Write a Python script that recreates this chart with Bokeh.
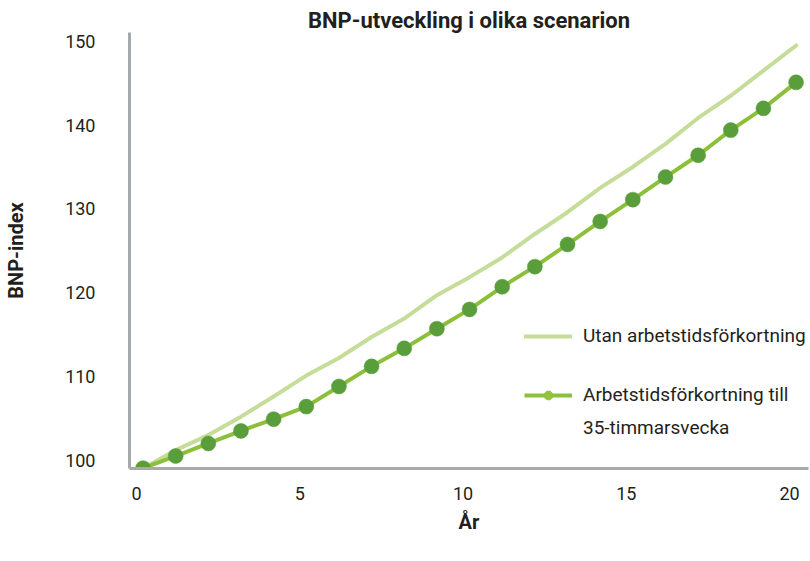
from bokeh.plotting import figure
from bokeh.models import Range1d, Legend, LegendItem, ColumnDataSource, FixedTicker
from bokeh.transform import dodge
from bokeh.embed import file_html
from bokeh.resources import INLINE

# ---- data ----
years = list(range(21))
utan = [99.05, 101.2, 103.0, 105.2, 107.6, 110.1, 112.2, 114.7, 116.9, 119.7, 121.85,
        124.2, 127.0, 129.6, 132.5, 135.0, 137.75, 140.85, 143.5, 146.5, 149.5]
med = [99.05, 100.5, 102.0, 103.5, 104.9, 106.4, 108.8, 111.2, 113.35, 115.7, 118.0,
       120.7, 123.1, 125.75, 128.5, 131.1, 133.8, 136.4, 139.4, 142.0, 145.1]
x_ticks = [0, 5, 10, 15, 20]
y_ticks = [100, 110, 120, 130, 140, 150]
label_utan = "Utan arbetstidsförkortning"
label_med_1 = "Arbetstidsförkortning till"
label_med_2 = "35-timmarsvecka"
title_text = "BNP-utveckling i olika scenarion"
x_title = "År"
y_title = "BNP-index"

FONT = "Roboto"
TXT = "#231f20"
AXIS = "#a7a9ac"
LIGHT = "#c5dd98"
DARK = "#8cbf3a"
MARK = "#5a9e3b"
LEG_MARK = "#95c13d"

src = ColumnDataSource(dict(year=years, utan=utan, med=med))

p = figure(width=810, height=561, output_backend="svg", toolbar_location=None,
           x_range=Range1d(-0.214, 20.58), y_range=Range1d(99.01, 151.05),
           min_border_left=129, min_border_right=2, min_border_top=32, min_border_bottom=93)
p.outline_line_color = None
p.grid.visible = False
p.background_fill_color = "white"
p.border_fill_color = "white"

p.title.text = title_text
p.title.align = "center"
p.title.text_font = FONT
p.title.text_font_style = "bold"
p.title.text_font_size = "22px"
p.title.text_color = TXT
p.title.standoff = 0

xd = dodge("year", 0.2)
r_utan = p.line(x=xd, y="utan", source=src, line_color=LIGHT, line_width=4, line_cap="round", line_join="round")
r_med = p.line(x=xd, y="med", source=src, line_color=DARK, line_width=4, line_join="round")
r_pts = p.scatter(x=xd, y="med", source=src, size=15, fill_color=MARK, line_color=MARK, line_alpha=0.5)

# legend-only renderers
r_leg_mark = p.scatter(x=xd, y="med", source=src, size=12, fill_color=LEG_MARK, line_color=LEG_MARK)
r_leg_mark.visible = False
r_blank = p.line(x=xd, y="med", source=src, line_alpha=0)
r_blank.visible = False

for ax in (p.xaxis[0], p.yaxis[0]):
    ax.axis_line_color = AXIS
    ax.axis_line_width = 3
    ax.major_tick_line_color = None
    ax.minor_tick_line_color = None
    ax.major_label_text_font = FONT
    ax.major_label_text_font_size = "18px"
    ax.major_label_text_color = TXT
    ax.axis_label_text_font = FONT
    ax.axis_label_text_font_style = "bold"
    ax.axis_label_text_font_size = "20px"
    ax.axis_label_text_color = TXT

p.xaxis.ticker = FixedTicker(ticks=x_ticks)
p.yaxis.ticker = FixedTicker(ticks=y_ticks)
p.xaxis.major_label_standoff = 12
p.yaxis.major_label_standoff = 28
p.xaxis.axis_label = x_title
p.yaxis.axis_label = y_title
p.xaxis.axis_label_standoff = 7
p.yaxis.axis_label_standoff = 34

def style_legend(lg):
    lg.background_fill_alpha = 0
    lg.border_line_color = None
    lg.padding = 0
    lg.margin = 0
    lg.glyph_width = 48
    lg.glyph_height = 22
    lg.label_height = 22
    lg.label_standoff = 11
    lg.label_text_font = FONT
    lg.label_text_font_size = "19px"
    lg.label_text_color = TXT
    lg.spacing = 10

leg1 = Legend(items=[LegendItem(label=label_utan, renderers=[r_utan])], location=(395, 121))
leg2 = Legend(items=[LegendItem(label=label_med_1, renderers=[r_med, r_leg_mark]),
                     LegendItem(label=label_med_2, renderers=[r_blank])], location=(395, 29))
for lg in (leg1, leg2):
    style_legend(lg)
    p.add_layout(lg)

open("out.html", "w").write(file_html(p, INLINE))
